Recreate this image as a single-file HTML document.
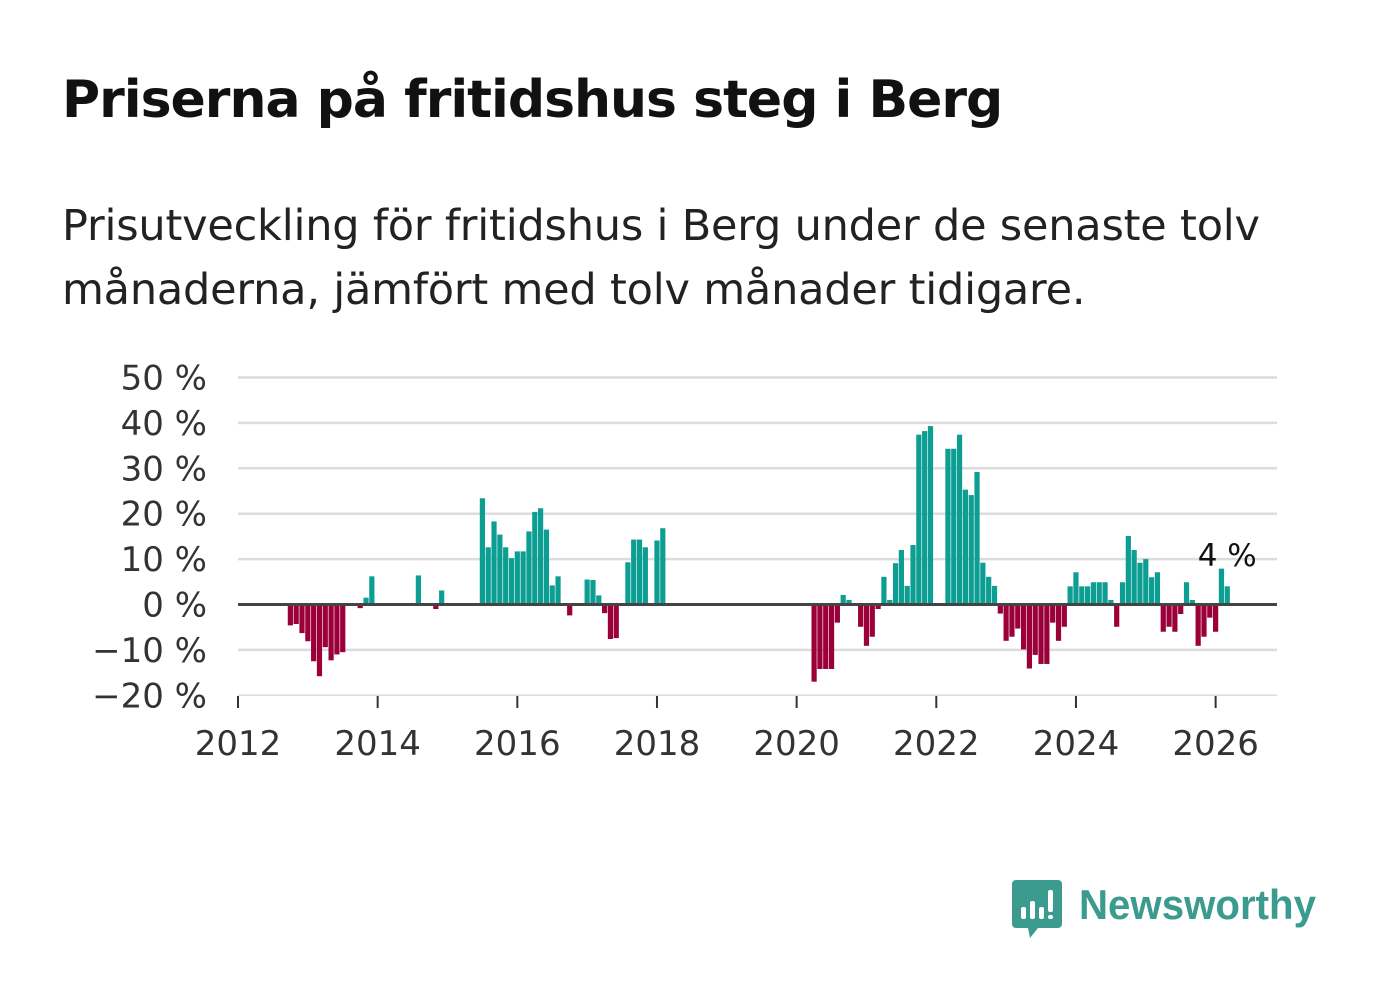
<!DOCTYPE html>
<html><head><meta charset="utf-8">
<style>
body{margin:0;background:#fff;width:1382px;height:999px;overflow:hidden;font-family:"Liberation Sans","DejaVu Sans",sans-serif;}
#title{position:absolute;left:62px;top:70px;font-size:52px;font-weight:bold;color:#111;margin:0;font-family:"DejaVu Sans","Liberation Sans",sans-serif;letter-spacing:-1px}
#subtitle{position:absolute;left:62px;top:194px;font-size:43px;line-height:64px;color:#222;width:1300px;font-family:"DejaVu Sans","Liberation Sans",sans-serif;letter-spacing:-0.2px}
svg{position:absolute;left:0;top:0}
</style></head><body>
<h1 id="title">Priserna på fritidshus steg i Berg</h1>
<div id="subtitle">Prisutveckling för fritidshus i Berg under de senaste tolv<br>månaderna, jämfört med tolv månader tidigare.</div>
<svg id="chart" width="1382" height="999"></svg>
<script>
const yTicks=[50,40,30,20,10,0,-10,-20];
const yTickLabels=["50 %","40 %","30 %","20 %","10 %","0 %","−10 %","−20 %"];
const xYears=[2012,2014,2016,2018,2020,2022,2024,2026];
// monthly values starting Jan 2012 (index 0)
const startYear=2012;
const monthIdx=[9,10,11,12,13,14,15,16,17,18,21,22,23,31,34,35,
42,43,44,45,46,47,48,49,50,51,52,53,54,55,57,60,61,62,63,64,65,67,68,69,70,72,73,
99,100,101,102,103,104,105,107,108,109,110,111,112,113,114,115,116,117,118,119,
122,123,124,125,126,127,128,129,130,131,132,133,134,135,136,137,138,139,140,141,142,
143,144,145,146,147,148,149,150,151,152,153,154,155,156,157,158,159,160,161,162,163,164,165,166,167,168,169,170];
const values=[-4.6,-4.3,-6.3,-8.1,-12.5,-15.8,-9.4,-12.3,-11,-10.5,-0.8,1.5,6.2,6.4,-1,3.1,
23.4,12.6,18.3,15.4,12.6,10.2,11.7,11.7,16.1,20.4,21.2,16.5,4.2,6.2,-2.4,5.5,5.4,2,-1.9,-7.6,-7.4,9.3,14.3,14.3,12.6,14.1,16.8,
-17,-14.2,-14.2,-14.2,-4,2.1,1,-4.9,-9.1,-7.1,-1,6.1,1,9.1,12,4.1,13.1,37.4,38.2,39.3,
34.3,34.3,37.4,25.3,24.1,29.2,9.2,6.1,4.1,-2,-8,-7.1,-5.3,-9.9,-14.1,-11.1,-13.1,-13.1,-4,-8,-4.9,
4,7.1,4,4,4.9,4.9,4.9,1,-4.9,4.9,15.1,12,9.2,10,6,7.1,-6,-4.9,-6,-2.1,4.9,1,-9.1,-7.1,-2.9,-6,7.9,4];
const lastLabel="4 %";

const svg=document.getElementById('chart');
const NS="http://www.w3.org/2000/svg";
const x0=238,pxPerYear=69.83;
const xScale=m=>x0+(m/12)*pxPerYear;
const yScale=v=>604.5-v*4.54;
function mk(t,a,p){const e=document.createElementNS(NS,t);for(const k in a)e.setAttribute(k,a[k]);(p||svg).appendChild(e);return e;}
yTicks.forEach((t,i)=>{
  const g=mk('line',{x1:238,x2:1277,y1:yScale(t),y2:yScale(t),stroke:'#dcdcdc','stroke-width':t===-20?1.5:2.5});
  
  
  const l=mk('text',{x:207,y:yScale(t)+12,'text-anchor':'end','font-size':34,fill:'#333','font-family':'DejaVu Sans, Liberation Sans, sans-serif'});
  l.textContent=yTickLabels[i];
  
  
});
monthIdx.forEach((m,i)=>{
  const v=values[i];const cx=xScale(m);
  const y1=yScale(Math.max(v,0)),y2=yScale(Math.min(v,0));
  const r=mk('rect',{x:cx-2.6,y:y1,width:5.2,height:Math.max(y2-y1,0.5),fill:v>=0?'#0d9e93':'#9b0039'});
  
  
});
const z=mk('line',{x1:238,x2:1277,y1:yScale(0),y2:yScale(0),stroke:'#444','stroke-width':3});


xYears.forEach(yr=>{
  const x=xScale((yr-startYear)*12);
  const t=mk('line',{x1:x,x2:x,y1:696,y2:708,stroke:'#333','stroke-width':2});
  
  
  const l=mk('text',{x:x,y:755,'text-anchor':'middle','font-size':34,fill:'#333','font-family':'DejaVu Sans, Liberation Sans, sans-serif'});
  l.textContent=yr;
  
  
});
const lm=monthIdx[monthIdx.length-1];
const ll=mk('text',{x:xScale(lm),y:566,'text-anchor':'middle','font-size':31,fill:'#111','font-family':'DejaVu Sans, Liberation Sans, sans-serif'});
ll.textContent=lastLabel;


</script>
<svg width="1382" height="999" style="pointer-events:none">
  <path d="M1016 880 h42 a4 4 0 0 1 4 4 v40 a4 4 0 0 1 -4 4 h-20 l-8 10 l-2 -10 h-12 a4 4 0 0 1 -4 -4 v-40 a4 4 0 0 1 4 -4z" fill="#3b9b8f"/>
  <rect x="1021" y="907" width="5" height="12" rx="2" fill="#fff"/>
  <rect x="1030" y="901" width="5" height="18" rx="2" fill="#fff"/>
  <rect x="1039" y="907" width="5" height="12" rx="2" fill="#fff"/>
  <rect x="1048" y="890" width="5" height="22" rx="2" fill="#fff"/>
  <rect x="1048" y="915" width="5" height="4" rx="2" fill="#fff"/>
  <text x="1079" y="919" font-size="42" font-weight="bold" fill="#3b9b8f" font-family="Liberation Sans, sans-serif" textLength="237" lengthAdjust="spacingAndGlyphs">Newsworthy</text>
</svg>
</body></html>
